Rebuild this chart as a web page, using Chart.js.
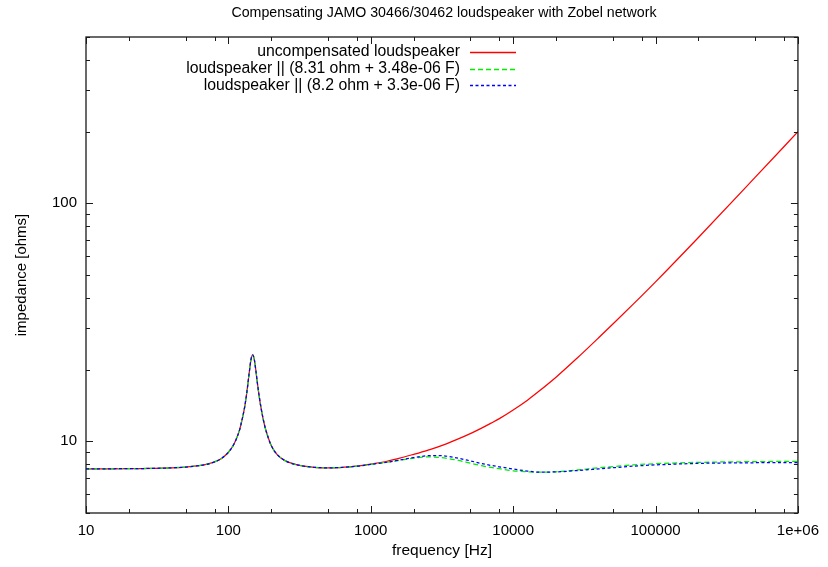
<!DOCTYPE html>
<html>
<head>
<meta charset="utf-8">
<title>Zobel network</title>
<script src="https://cdn.jsdelivr.net/npm/chart.js@4.4.1/dist/chart.umd.min.js"></script>
<style>
  html, body { margin: 0; padding: 0; background: #fff; }
  #wrap { width: 828px; height: 567px; }
</style>
</head>
<body>
<div id="wrap"><canvas id="plot" width="828" height="567"></canvas></div>
<script>
'use strict';

// ── Data ─────────────────────────────────────────────────────
const freq = [10, 15, 20, 30, 40, 50, 60, 70, 80, 90, 100, 110, 120, 125, 130, 135, 140, 144, 148,
  152, 156, 160, 165, 170, 180, 190, 200, 220, 250, 300, 400, 500, 600, 800,
  1000, 1300, 1600, 2000, 2500, 3000, 4000, 5000, 6000, 7000, 8000, 10000, 12600, 15000,
  20000, 28200, 40000, 52100, 70000, 100000, 200000, 500000, 1000000];

// below ~1 kHz the three curves coincide
const lowPart = [7.66, 7.67, 7.68, 7.70, 7.74, 7.80, 7.88, 8.00, 8.20, 8.50, 9.00, 9.80, 11.2, 12.4, 13.9, 16.2, 19.4, 22.0, 23.1,
  22.1, 19.8, 17.5, 15.3, 13.7, 11.6, 10.4, 9.6, 8.8, 8.3, 7.98, 7.78, 7.74, 7.76, 7.86];

const zUncomp = lowPart.concat([8.03, 8.25, 8.50, 8.82, 9.17, 9.50, 10.17, 10.78, 11.37, 11.93, 12.46, 13.55, 14.9, 16.15,
  18.6, 22.4, 27.3, 31.8, 37.8, 46.8, 71.9, 128.5, 200]);
const zZobelA = lowPart.concat([8.00, 8.17, 8.33, 8.50, 8.60, 8.57, 8.35, 8.10, 7.90, 7.77, 7.68, 7.52, 7.45, 7.42,
  7.45, 7.58, 7.75, 7.85, 7.96, 8.06, 8.16, 8.22, 8.24]);
const zZobelB = lowPart.concat([8.00, 8.17, 8.35, 8.55, 8.70, 8.72, 8.52, 8.28, 8.07, 7.92, 7.82, 7.65, 7.50, 7.43,
  7.44, 7.54, 7.66, 7.76, 7.87, 7.96, 8.08, 8.13, 8.15]);

const seriesNames = [
  'uncompensated loudspeaker',
  'loudspeaker || (8.31 ohm + 3.48e-06 F)',
  'loudspeaker || (8.2 ohm + 3.3e-06 F)'
];
const seriesColors = ['#ff0000', '#00ee00', '#0000ff'];
const seriesDash = [[], [5, 3], [3, 2.5]];

const xMajor = [10, 100, 1000, 10000, 100000, 1000000];
const xLabels = ['10', '100', '1000', '10000', '100000', '1e+06'];
const yMajor = [10, 100];
const yLabels = ['10', '100'];

const FONT = 'Liberation Sans, Arial, sans-serif';

// minor ticks: x at 2,5,8 per decade, y at every integer
const xTicks = [];
xMajor.forEach((m, i) => {
  xTicks.push(m);
  if (i < xMajor.length - 1) [2, 5, 8].forEach(k => xTicks.push(m * k));
});
const yTicks = [5, 6, 7, 8, 9, 10, 20, 30, 40, 50, 60, 70, 80, 90, 100, 200, 300, 400, 500];

const pts = arr => freq.map((f, i) => ({ x: f, y: arr[i] }));

// ── gnuplot-like frame, inward ticks, key and title ────────
const gnuFrame = {
  id: 'gnuFrame',
  afterDraw(chart) {
    const { ctx, chartArea: a, scales: { x, y } } = chart;
    ctx.save();
    ctx.strokeStyle = '#1a1a1a';
    ctx.lineWidth = 1.3;
    ctx.strokeRect(a.left, a.top, a.right - a.left, a.bottom - a.top);

    ctx.lineWidth = 1;
    ctx.beginPath();
    xTicks.forEach(v => {
      const px = Math.round(x.getPixelForValue(v)) + 0.5;
      const len = xMajor.includes(v) ? 7 : 4;
      ctx.moveTo(px, a.bottom); ctx.lineTo(px, a.bottom - len);
      ctx.moveTo(px, a.top); ctx.lineTo(px, a.top + len);
    });
    yTicks.forEach(v => {
      const py = Math.round(y.getPixelForValue(v)) + 0.5;
      const len = yMajor.includes(v) ? 7 : 4;
      ctx.moveTo(a.left, py); ctx.lineTo(a.left + len, py);
      ctx.moveTo(a.right, py); ctx.lineTo(a.right - len, py);
    });
    ctx.stroke();

    // title centred on the plot area
    ctx.fillStyle = '#000';
    ctx.font = '14.2px ' + FONT;
    ctx.textAlign = 'center';
    ctx.textBaseline = 'middle';
    ctx.fillText('Compensating JAMO 30466/30462 loudspeaker with Zobel network', (a.left + a.right) / 2 + 2, 13);

    // key
    ctx.font = '15.8px ' + FONT;
    ctx.textAlign = 'right';
    seriesNames.forEach((name, i) => {
      const ky = 52 + i * 16.6;
      ctx.fillStyle = '#000';
      ctx.fillText(name, 460, ky);
      ctx.strokeStyle = seriesColors[i];
      ctx.lineWidth = 1.3;
      ctx.setLineDash(seriesDash[i]);
      ctx.beginPath();
      ctx.moveTo(470, Math.round(ky) + 0.5);
      ctx.lineTo(516, Math.round(ky) + 0.5);
      ctx.stroke();
    });
    ctx.restore();
  }
};

const mkSet = (i, arr, order) => ({
  label: seriesNames[i],
  data: pts(arr),
  borderColor: seriesColors[i],
  borderDash: seriesDash[i],
  borderWidth: 1.25,
  order
});

new Chart(document.getElementById('plot').getContext('2d'), {
  type: 'line',
  data: {
    datasets: [mkSet(0, zUncomp, 3), mkSet(1, zZobelA, 2), mkSet(2, zZobelB, 1)]
  },
  options: {
    responsive: false,
    animation: false,
    events: [],
    layout: { padding: { left: 0, right: 26, top: 37, bottom: 0 } },
    elements: { point: { radius: 0 }, line: { cubicInterpolationMode: 'monotone' } },
    plugins: { legend: { display: false }, title: { display: false }, tooltip: { enabled: false } },
    scales: {
      x: {
        type: 'logarithmic',
        min: 10,
        max: 1000000,
        afterBuildTicks: s => { s.ticks = xTicks.map(v => ({ value: v })); },
        afterFit: s => { s.height = 54; },
        grid: { display: false, drawTicks: false },
        border: { display: false },
        ticks: {
          autoSkip: false,
          maxRotation: 0,
          padding: 9,
          color: '#000',
          font: { family: FONT, size: 15 },
          callback: v => { const i = xMajor.indexOf(v); return i >= 0 ? xLabels[i] : ''; }
        },
        title: { display: true, text: 'frequency [Hz]', color: '#000', font: { family: FONT, size: 15.5 }, padding: { top: 7, bottom: 7 } }
      },
      y: {
        type: 'logarithmic',
        min: 5,
        max: 500,
        afterBuildTicks: s => { s.ticks = yTicks.map(v => ({ value: v })); },
        afterFit: s => { s.width = 86; },
        grid: { display: false, drawTicks: false },
        border: { display: false },
        ticks: {
          autoSkip: false,
          padding: 9,
          color: '#000',
          font: { family: FONT, size: 15 },
          callback: v => { const i = yMajor.indexOf(v); return i >= 0 ? yLabels[i] : ''; }
        },
        title: { display: true, text: 'impedance [ohms]', color: '#000', font: { family: FONT, size: 15 }, padding: { top: 13, bottom: 13 } }
      }
    }
  },
  plugins: [gnuFrame]
});
</script>
</body>
</html>
